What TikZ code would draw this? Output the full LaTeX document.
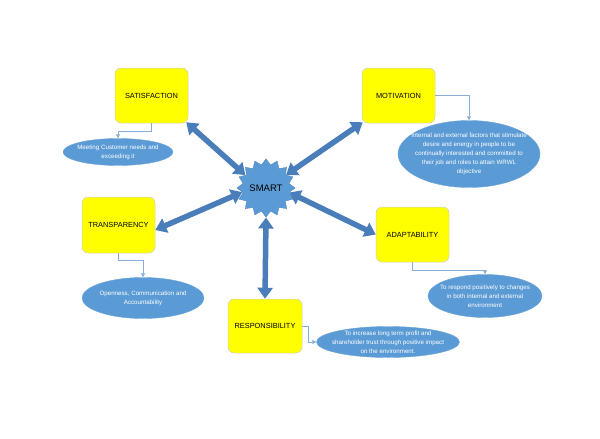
\documentclass[tikz,border=0pt]{standalone}
\usepackage{fontspec}
\setmainfont{Liberation Sans}
\usetikzlibrary{shapes.geometric,arrows.meta,calc}
\definecolor{boxyellow}{HTML}{FFFF00}
\definecolor{ellblue}{HTML}{5B9BD5}
\definecolor{arrblue}{HTML}{4A7EBB}
\definecolor{connblue}{HTML}{8AAED8}
\tikzset{
  box/.style={draw=black!20, line width=0.5pt, fill=boxyellow, rounded corners=6pt,
    minimum width=73pt, minimum height=55pt, inner sep=0pt,
    font=\fontsize{7.4}{9}\selectfont},
  ell/.style={ellipse, fill=ellblue, draw=ellblue!90!white, line width=0.4pt, inner sep=0pt},
  elltext/.style={text=white, align=center, font=\fontsize{6.2}{9}\selectfont, inner sep=0pt},
  bigarrow/.style={line width=5.5pt, draw=arrblue,
    {Triangle[width=15pt,length=11pt]}-{Triangle[width=15pt,length=11pt]}},
  conn/.style={draw=connblue, line width=0.6pt, -{Triangle[width=4pt,length=4pt]}},
}
\begin{document}
\begin{tikzpicture}[x=1pt,y=-1pt]
\useasboundingbox (0,0) rectangle (600,439);
% boxes
\node[box] (sat) at (151.5,95.5) {SATISFACTION};
\node[box] (mot) at (398.5,95.5) {MOTIVATION};
\node[box, minimum height=56pt] (tra) at (118.5,225) {TRANSPARENCY};
\node[box] (ada) at (412.5,234.5) {ADAPTABILITY};
\node[box, minimum width=74pt, minimum height=54pt] (res) at (265,326) {RESPONSIBILITY};
% ellipses
\node[ell, minimum width=110pt, minimum height=27pt,
  label={[elltext]center:Meeting Customer needs and\\exceeding it}] (satE) at (118,152) {};
\node[ell, minimum width=142pt, minimum height=67pt,
  label={[elltext]center:Internal and external factors that stimulate\\desire and energy in people to be\\continually interested and committed to\\their job and roles to attain WRWL\\objective}] (motE) at (469,154) {};
\node[ell, minimum width=122pt, minimum height=41pt,
  label={[elltext]center:Openness, Communication and\\Accountability}] (traE) at (143,298) {};
\node[ell, minimum width=114pt, minimum height=43pt,
  label={[elltext]center:To respond positively to changes\\in both internal and external\\environment}] (adaE) at (485,296) {};
\node[ell, minimum width=143pt, minimum height=31pt,
  label={[elltext]center:To increase long term profit and\\shareholder trust through positive impact\\on the environment.}] (resE) at (388,342) {};
% star
\node[star, star points=16, star point ratio=1.25, minimum size=55pt, inner sep=0pt,
  fill=ellblue, draw=ellblue!85!black, line width=0.3pt,
  font=\fontsize{9.5}{11}\selectfont] (smart) at (266,188) {SMART};
% thick double arrows
\draw[bigarrow] (smart.148) -- ($(sat.south east)+(-2,-1)$);
\draw[bigarrow] (smart.33) -- ($(mot.south west)+(1,-1)$);
\draw[bigarrow] (smart.190) -- ($(tra.east)+(0,5)$);
\draw[bigarrow] (smart.-11) -- (ada.west);
\draw[bigarrow] (smart.south) -- (res.north);
% thin connectors
\draw[conn] (sat.south) -- ++(0,8) -| (satE.north);
\draw[conn] (mot.east) -| (motE.north);
\draw[conn] (tra.south) -- ++(0,7) -| (traE.north);
\draw[conn] (ada.south) -- ++(0,8) -| (adaE.north);
\draw[conn] (res.east) -- ++(6,0) |- (resE.west);
\end{tikzpicture}
\end{document}
